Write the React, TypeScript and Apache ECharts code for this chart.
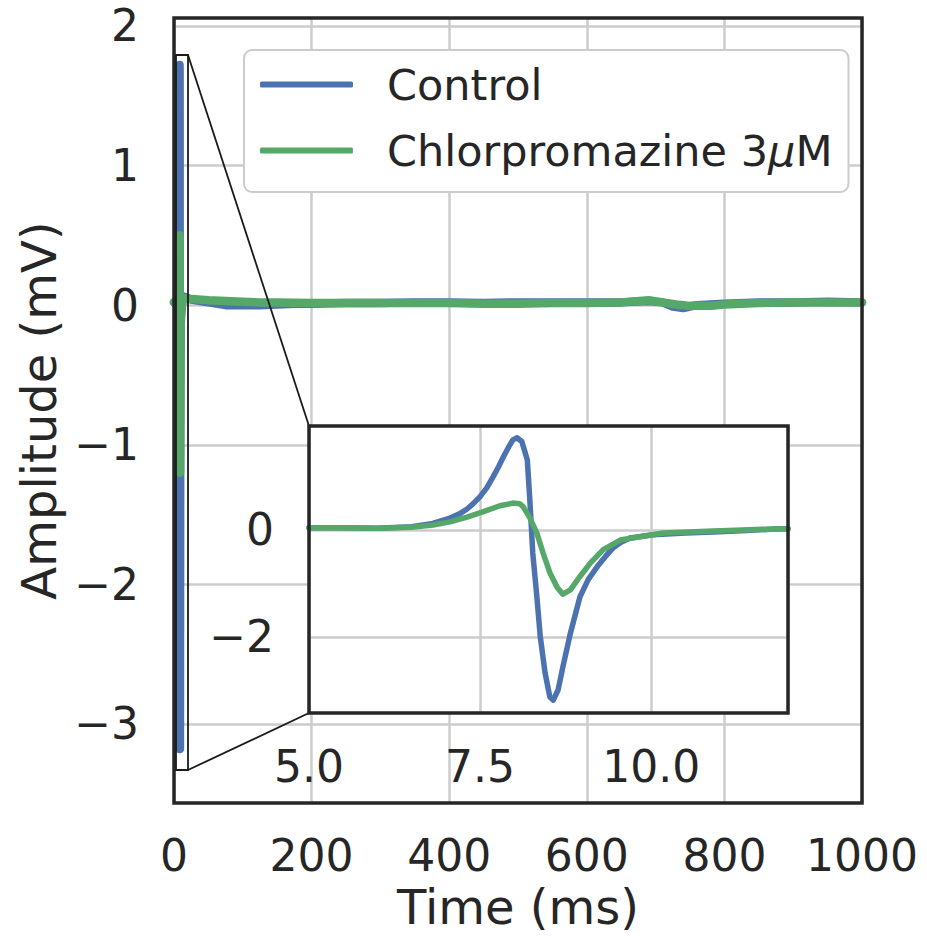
import React, { useEffect, useRef } from "react";
import * as echarts from "echarts";

// ---------- data ----------
const seriesNames = ["Control", "Chlorpromazine 3μM"];
const colors = ["#4C72B0", "#55A868"];

// axis ticks
const mainXTicks = [0, 200, 400, 600, 800, 1000];
const mainYTicks = [-3, -2, -1, 0, 1, 2];
const insetXTicks = [5, 7.5, 10];
const insetYTicks = [-2, 0];

// Control: baseline before the spike (ms, mV)
const controlLead: [number, number][] = [[0, 0.02], [4, 0.03]];
// Control: action potential, 5–12 ms
const controlSpike: [number, number][] = [
  [5.0, 0.04], [5.5, 0.04], [6.0, 0.03], [6.5, 0.06], [6.81, 0.12], [7.06, 0.22],
  [7.2, 0.3], [7.31, 0.39], [7.4, 0.49], [7.5, 0.62], [7.6, 0.79], [7.69, 0.99],
  [7.77, 1.18], [7.84, 1.36], [7.91, 1.53], [7.98, 1.68], [8.04, 1.72],
  [8.11, 1.65], [8.19, 1.31], [8.23, 0.5], [8.27, -0.43], [8.33, -1.25], [8.38, -2.0],
  [8.45, -2.67], [8.52, -3.12], [8.57, -3.18], [8.64, -2.99], [8.71, -2.56], [8.82, -1.93],
  [8.96, -1.25], [9.08, -0.93], [9.21, -0.69], [9.33, -0.5], [9.44, -0.34], [9.56, -0.23],
  [9.69, -0.15], [10.03, -0.09], [10.5, -0.06], [10.91, -0.04], [11.4, -0.01],
  [11.89, 0.02], [12.0, 0.02],
];
// Control: baseline after the spike
const controlTail: [number, number][] = [
  [15, 0.06], [25, 0.04], [50, 0.02], [75, 0.0], [100, 0.0], [125, 0.0], [150, 0.005],
  [175, 0.01], [200, 0.01], [250, 0.015], [300, 0.015], [350, 0.02], [400, 0.02],
  [450, 0.015], [500, 0.02], [550, 0.02], [600, 0.02], [650, 0.02], [690, 0.03],
  [710, 0.02], [725, -0.01], [740, -0.02], [760, 0.0], [780, 0.005], [800, 0.01],
  [850, 0.02], [900, 0.02], [950, 0.025], [1000, 0.02],
];

// Chlorpromazine: baseline before the spike
const cpzLead: [number, number][] = [[0, 0.02], [4, 0.03]];
// Chlorpromazine: action potential, 5–12 ms
const cpzSpike: [number, number][] = [
  [5.0, 0.04], [5.5, 0.04], [6.0, 0.03], [6.5, 0.05], [6.81, 0.09], [7.06, 0.15],
  [7.31, 0.24], [7.55, 0.34], [7.79, 0.45], [7.98, 0.5], [8.08, 0.49], [8.13, 0.43],
  [8.23, 0.22], [8.33, -0.06], [8.42, -0.43], [8.52, -0.8], [8.63, -1.08], [8.71, -1.2],
  [8.82, -1.12], [8.96, -0.87], [9.11, -0.62], [9.3, -0.37], [9.55, -0.19], [9.84, -0.13],
  [10.18, -0.06], [10.91, -0.02], [11.89, 0.02], [12.0, 0.02],
];
// Chlorpromazine: baseline after the spike
const cpzTail: [number, number][] = [
  [15, 0.05], [25, 0.045], [50, 0.035], [75, 0.03], [100, 0.025], [125, 0.02],
  [150, 0.02], [200, 0.015], [250, 0.015], [300, 0.015], [350, 0.015], [400, 0.015],
  [450, 0.01], [500, 0.01], [550, 0.015], [600, 0.015], [650, 0.02], [690, 0.035],
  [710, 0.02], [730, 0.005], [750, -0.005], [780, -0.005], [800, 0.005], [850, 0.015],
  [900, 0.02], [950, 0.02], [1000, 0.02],
];

// axis limits
const mainXRange = [0, 1000];
const mainYRange = [-3.566, 2.057];
const insetXRange = [5, 12];
const insetYRange = [-3.42, 1.94];

const FONT = "DejaVu Sans";
const INK = "#262626";
const GRIDC = "#cccccc";

const fmtMinus = (v: number) => (v < 0 ? "\u2212" + Math.abs(v) : String(v));

export default function App() {
  const ref = useRef<HTMLDivElement>(null);
  useEffect(() => {
    if (!ref.current) return;
    const chart = echarts.init(ref.current, null, { renderer: "svg" });

    const mainControl = [...controlLead, ...controlSpike, ...controlTail];
    const mainCpz = [...cpzLead, ...cpzSpike, ...cpzTail];

    const option: any = {
      animation: false,
      backgroundColor: "#ffffff",
      textStyle: { fontFamily: FONT, color: INK },
      grid: [
        {
          left: 174, right: 65, top: 18, bottom: 130,
          show: true, backgroundColor: "transparent",
          borderColor: INK, borderWidth: 3.5, z: 3,
        },
        {
          left: 309, top: 426, width: 479, height: 287,
          show: true, backgroundColor: "#ffffff", borderWidth: 0, z: 10,
        },
      ],
      xAxis: [
        {
          gridIndex: 0, type: "value", min: mainXRange[0], max: mainXRange[1], interval: 200,
          axisLine: { show: false }, axisTick: { show: false },
          axisLabel: { fontSize: 44, color: INK, margin: 30, fontFamily: FONT,
            formatter: (v: number) => String(v), customValues: mainXTicks },
          splitLine: { show: true, lineStyle: { color: GRIDC, width: 2.5 } },
          name: "Time (ms)", nameLocation: "middle", nameGap: 80,
          nameTextStyle: { fontSize: 48, color: INK, fontFamily: FONT },
        },
        {
          gridIndex: 1, type: "value", min: insetXRange[0], max: insetXRange[1], interval: 2.5,
          axisLine: { show: false }, axisTick: { show: false },
          axisLabel: { fontSize: 44, color: INK, margin: 31, fontFamily: FONT,
            formatter: (v: number) => v.toFixed(1), customValues: insetXTicks },
          splitLine: { show: true, lineStyle: { color: GRIDC, width: 2.5 } },
          z: 11,
        },
      ],
      yAxis: [
        {
          gridIndex: 0, type: "value", min: mainYRange[0], max: mainYRange[1],
          axisLine: { show: false },
          axisTick: { show: false, customValues: mainYTicks },
          axisLabel: { fontSize: 44, color: INK, margin: 35, fontFamily: FONT,
            formatter: fmtMinus, customValues: mainYTicks },
          splitLine: { show: true, lineStyle: { color: GRIDC, width: 2.5 } },
          name: "Amplitude (mV)", nameLocation: "middle", nameGap: 110,
          nameTextStyle: { fontSize: 48, color: INK, fontFamily: FONT },
        },
        {
          gridIndex: 1, type: "value", min: insetYRange[0], max: insetYRange[1],
          axisLine: { show: false },
          axisTick: { show: false, customValues: insetYTicks },
          axisLabel: { fontSize: 44, color: INK, margin: 35, fontFamily: FONT,
            formatter: fmtMinus, customValues: insetYTicks },
          splitLine: { show: true, lineStyle: { color: GRIDC, width: 2.5 } },
          z: 11,
        },
      ],
      legend: {
        data: seriesNames,
        orient: "vertical",
        left: 244, top: 50,
        padding: [13, 16, 20, 16],
        itemGap: 23,
        itemWidth: 93, itemHeight: 6,
        icon: "roundRect",
        backgroundColor: "#ffffff",
        borderColor: GRIDC, borderWidth: 2, borderRadius: 8,
        formatter: (n: string) => n.replace("μ", "{i|μ}"),
        textStyle: {
          fontSize: 43, color: INK, fontFamily: FONT, padding: [0, 0, 0, 29],
          rich: { i: { fontSize: 43, color: INK, fontFamily: FONT, fontStyle: "italic" } },
        },
      },
      series: [
        {
          name: seriesNames[0], type: "line", xAxisIndex: 0, yAxisIndex: 0,
          data: mainControl, symbol: "none", z: 2,
          lineStyle: { color: colors[0], width: 8.5, join: "round", cap: "round" },
          itemStyle: { color: colors[0] },
        },
        {
          name: seriesNames[1], type: "line", xAxisIndex: 0, yAxisIndex: 0,
          data: mainCpz, symbol: "none", z: 2,
          lineStyle: { color: colors[1], width: 8.5, join: "round", cap: "round" },
          itemStyle: { color: colors[1] },
        },
        {
          name: seriesNames[0], type: "line", xAxisIndex: 1, yAxisIndex: 1,
          data: controlSpike, symbol: "none", z: 12,
          lineStyle: { color: colors[0], width: 5.5, join: "round", cap: "round" },
          itemStyle: { color: colors[0] },
        },
        {
          name: seriesNames[1], type: "line", xAxisIndex: 1, yAxisIndex: 1,
          data: cpzSpike, symbol: "none", z: 12,
          lineStyle: { color: colors[1], width: 5.5, join: "round", cap: "round" },
          itemStyle: { color: colors[1] },
        },
      ],
      graphic: [
        {
          type: "rect", z: 60, silent: true,
          shape: { x: 176, y: 55, width: 12, height: 715 },
          style: { fill: "none", stroke: "#1a1a1a", lineWidth: 1.8 },
        },
        {
          type: "line", z: 60, silent: true,
          shape: { x1: 188, y1: 55, x2: 309, y2: 426 },
          style: { stroke: "#1a1a1a", lineWidth: 1.8 },
        },
        {
          type: "line", z: 60, silent: true,
          shape: { x1: 188, y1: 770, x2: 309, y2: 713 },
          style: { stroke: "#1a1a1a", lineWidth: 1.8 },
        },
        {
          type: "rect", z: 60, silent: true,
          shape: { x: 309, y: 426, width: 479, height: 287 },
          style: { fill: "none", stroke: INK, lineWidth: 3.5 },
        },
      ],
    };
    chart.setOption(option);
    return () => chart.dispose();
  }, []);
  return (
    <div
      ref={ref}
      style={{ position: "fixed", left: 0, top: 0, width: 927, height: 936, background: "#fff" }}
    />
  );
}
